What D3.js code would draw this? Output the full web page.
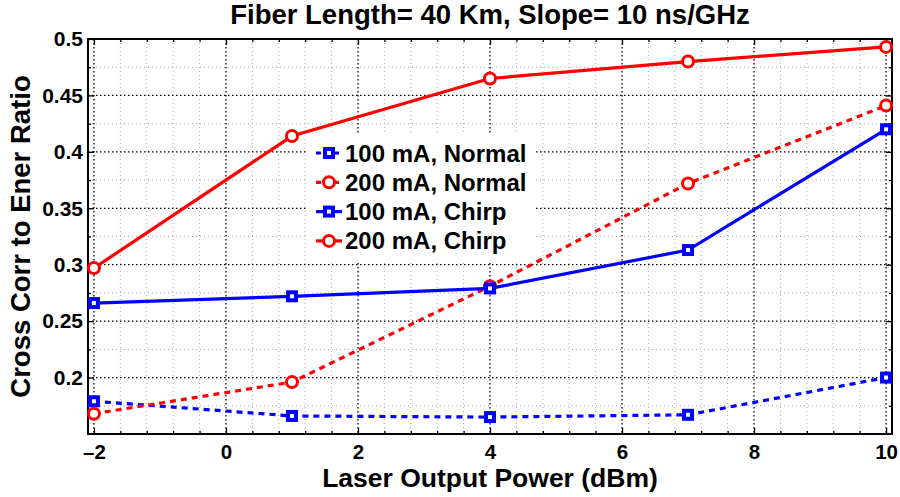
<!DOCTYPE html>
<html><head><meta charset="utf-8">
<script src="https://cdn.jsdelivr.net/npm/d3@7"></script>
<style>body{margin:0;background:#fff;} svg{display:block;font-family:"Liberation Sans",Arial,sans-serif;font-weight:bold;}</style>
</head><body>
<svg id="c" width="900" height="497"></svg>
<script>
const xValues = [-2, 1, 4, 7, 10];
const normal100 = [0.179, 0.166, 0.165, 0.167, 0.200];
const normal200 = [0.168, 0.196, 0.281, 0.372, 0.441];
const chirp100 = [0.266, 0.272, 0.279, 0.313, 0.420];
const chirp200 = [0.297, 0.414, 0.465, 0.480, 0.493];
const xTicks = [-2, 0, 2, 4, 6, 8, 10];
const yTicks = [0.2, 0.25, 0.3, 0.35, 0.4, 0.45, 0.5];
const seriesNames = ["100 mA, Normal", "200 mA, Normal", "100 mA, Chirp", "200 mA, Chirp"];
const titleText = "Fiber Length= 40 Km, Slope= 10 ns/GHz";
const xLabel = "Laser Output Power (dBm)";
const yLabel = "Cross Corr to Ener Ratio";

const series = [
  {name: seriesNames[0], values: normal100, color: "#0000ff", dash: "6,5", marker: "square"},
  {name: seriesNames[1], values: normal200, color: "#ff0000", dash: "6,5", marker: "circle"},
  {name: seriesNames[2], values: chirp100, color: "#0000ff", dash: null, marker: "square"},
  {name: seriesNames[3], values: chirp200, color: "#ff0000", dash: null, marker: "circle"}
];

const L = 88, R = 892, T = 39, B = 434;
const svg = d3.select("#c");
const x = d3.scaleLinear().domain([-2.09, 10.09]).range([L, R]);
const y = d3.scaleLinear().domain([0.15, 0.5]).range([B, T]);

// minor grid
const xMinor = d3.range(-2, 10.01, 0.4).filter(v => Math.abs(v/2 - Math.round(v/2)) > 1e-6);
const yMinor = d3.range(0.175, 0.5, 0.05);
const g = svg.append("g");
g.selectAll("line.xm").data(xMinor).join("line")
  .attr("x1", d => x(d)).attr("x2", d => x(d)).attr("y1", T).attr("y2", B)
  .attr("stroke", "#aaa").attr("stroke-width", 1).attr("stroke-dasharray", "1,3");
g.selectAll("line.ym").data(yMinor).join("line")
  .attr("y1", d => y(d)).attr("y2", d => y(d)).attr("x1", L).attr("x2", R)
  .attr("stroke", "#aaa").attr("stroke-width", 1).attr("stroke-dasharray", "1,3");
// major grid
g.selectAll("line.xM").data(xTicks).join("line")
  .attr("x1", d => x(d)).attr("x2", d => x(d)).attr("y1", T).attr("y2", B)
  .attr("stroke", "#000").attr("stroke-width", 1.3).attr("stroke-dasharray", "1.5,2.5");
g.selectAll("line.yM").data(yTicks).join("line")
  .attr("y1", d => y(d)).attr("y2", d => y(d)).attr("x1", L).attr("x2", R)
  .attr("stroke", "#000").attr("stroke-width", 1.3).attr("stroke-dasharray", "1.5,2.5");

// axes
const xAxis = d3.axisBottom(x).tickValues(xTicks).tickSize(-6).tickPadding(10)
  .tickFormat(d => d < 0 ? "\u2013" + Math.abs(d) : d);
const yAxis = d3.axisLeft(y).tickValues(yTicks).tickSize(-6).tickPadding(5)
  .tickFormat(d => String(+d.toFixed(2)));
svg.append("g").attr("class", "lab").attr("transform", `translate(0,${B})`).call(xAxis);
svg.append("g").attr("class", "lab").attr("transform", `translate(${L},0)`).call(yAxis);
svg.append("g").attr("transform", `translate(0,${T})`).call(d3.axisTop(x).tickValues(xTicks).tickSize(-6).tickFormat(""));
svg.append("g").attr("transform", `translate(${R},0)`).call(d3.axisRight(y).tickValues(yTicks).tickSize(-6).tickFormat(""));
// minor ticks
svg.append("g").attr("transform", `translate(0,${B})`).call(d3.axisBottom(x).tickValues(xMinor).tickSize(-3).tickFormat(""));
svg.append("g").attr("transform", `translate(0,${T})`).call(d3.axisTop(x).tickValues(xMinor).tickSize(-3).tickFormat(""));
svg.append("g").attr("transform", `translate(${L},0)`).call(d3.axisLeft(y).tickValues(yMinor).tickSize(-3).tickFormat(""));
svg.append("g").attr("transform", `translate(${R},0)`).call(d3.axisRight(y).tickValues(yMinor).tickSize(-3).tickFormat(""));
svg.selectAll(".domain").remove();
svg.selectAll(".tick line").attr("stroke", "#000").attr("stroke-width", 1.3);
svg.selectAll(".lab").attr("font-size", null).attr("font-family", null);
svg.selectAll(".tick text").attr("fill", "#000").style("font-size", "21px").style("font-weight", "bold")
  .style("font-family", "'Liberation Sans',Arial,sans-serif");
svg.selectAll(".lab").filter((d, i) => i === 0).selectAll(".tick text").style("font-size", "20.5px");
svg.append("rect").attr("x", L).attr("y", T).attr("width", R - L).attr("height", B - T)
  .attr("fill", "none").attr("stroke", "#000").attr("stroke-width", 2);

// lines
const line = d3.line().x((d, i) => x(xValues[i])).y(d => y(d));
function drawMarker(sel, type, color) {
  if (type === "square") {
    sel.append("rect").attr("x", -4).attr("y", -4).attr("width", 8).attr("height", 8)
      .attr("fill", "#fff").attr("stroke", color).attr("stroke-width", 4);
  } else {
    sel.append("circle").attr("r", 5.5).attr("fill", "#fff").attr("stroke", color).attr("stroke-width", 3);
  }
}
series.forEach(s => {
  svg.append("path").datum(s.values).attr("d", line).attr("fill", "none")
    .attr("stroke", s.color).attr("stroke-width", 3.2)
    .attr("stroke-dasharray", s.dash);
  s.values.forEach((v, i) => {
    const m = svg.append("g").attr("transform", `translate(${x(xValues[i])},${y(v)})`);
    drawMarker(m, s.marker, s.color);
  });
});

// legend
const lg = svg.append("g");
lg.append("rect").attr("x", 307).attr("y", 133).attr("width", 228).attr("height", 128).attr("fill", "#fff");
series.forEach((s, i) => {
  const cy = 153 + i * 29.3;
  lg.append("line").attr("x1", 316).attr("x2", 342).attr("y1", cy).attr("y2", cy)
    .attr("stroke", s.color).attr("stroke-width", 3.2).attr("stroke-dasharray", s.dash ? "5,4" : null);
  const m = lg.append("g").attr("transform", `translate(329,${cy})`);
  drawMarker(m, s.marker, s.color);
  lg.append("text").attr("x", 345).attr("y", cy + 8.5).text(s.name)
    .style("font-size", "24px").attr("fill", "#000");
});

// titles
svg.append("text").attr("x", (L + R) / 2).attr("y", 24).attr("text-anchor", "middle")
  .style("font-size", "27.5px").text(titleText);
svg.append("text").attr("x", (L + R) / 2).attr("y", 487).attr("text-anchor", "middle")
  .style("font-size", "26.5px").text(xLabel);
svg.append("text").attr("transform", `translate(30,${(T + B) / 2}) rotate(-90)`).attr("text-anchor", "middle")
  .style("font-size", "27.5px").text(yLabel);
</script>
</body></html>
